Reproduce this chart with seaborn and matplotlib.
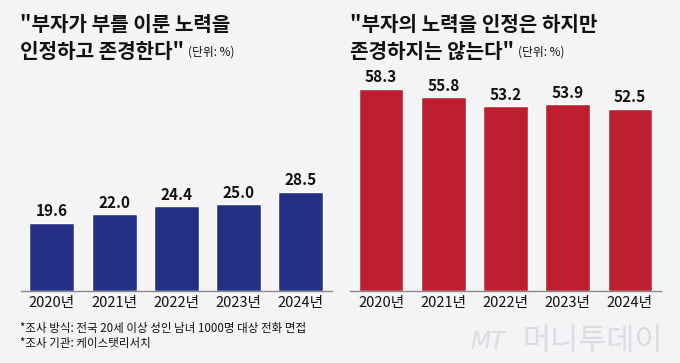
import matplotlib
matplotlib.use('Agg')
import matplotlib.pyplot as plt
import seaborn as sns
import pandas as pd
import numpy as np

sns.set_style('white')
plt.rcParams['font.family'] = ['Noto Sans CJK KR', 'DejaVu Sans']

# 데이터
years = ['2020년', '2021년', '2022년', '2023년', '2024년']
respect = [19.6, 22.0, 24.4, 25.0, 28.5]
no_respect = [58.3, 55.8, 53.2, 53.9, 52.5]

BG = '#f4f4f7'
BLUE = '#252f86'
RED = '#bd1f2e'

W, H = 680, 363
fig = plt.figure(figsize=(W / 100, H / 100), dpi=100, facecolor=BG)

base_px = 290.5
top_px = 80
ymax = (base_px - top_px) / 3.46

def px_axes(x0, x1):
    return fig.add_axes([x0 / W, (H - base_px) / H, (x1 - x0) / W, (base_px - top_px) / H])

ax1 = px_axes(20.7, 332)
ax2 = px_axes(350, 661)

for ax, vals, col in [(ax1, respect, BLUE), (ax2, no_respect, RED)]:
    df = pd.DataFrame({'year': years, 'val': vals})
    sns.barplot(data=df, x='year', y='val', color=col, width=0.72,
                saturation=1, ax=ax)
    ax.set_facecolor(BG)
    ax.set_xlim(-0.5, 4.5)
    ax.set_ylim(0, ymax)
    ax.bar_label(ax.containers[0], fmt='%.1f', padding=2.5,
                 fontsize=11, fontweight='bold', color='#111111')
    for s in ['top', 'left', 'right']:
        ax.spines[s].set_visible(False)
    ax.spines['bottom'].set_color('#8a8a8a')
    ax.spines['bottom'].set_linewidth(1)
    ax.set_yticks([])
    ax.set_xlabel('')
    ax.set_ylabel('')
    ax.tick_params(axis='x', which='major', length=0, pad=4, labelsize=10.5,
                   labelcolor='#111111')
    ax.set_xticks(np.arange(-0.5, 5, 1), minor=True)
    ax.tick_params(axis='x', which='minor', direction='in', length=5,
                   width=1, color='#8a8a8a')

# 제목
renderer = fig.canvas.get_renderer()
titles = [
    (20, ['"부자가 부를 이룬 노력을', '인정하고 존경한다"']),
    (350, ['"부자의 노력을 인정은 하지만', '존경하지는 않는다"']),
]
for x0, lines in titles:
    fig.text(x0 / W, 1 - 31 / H, lines[0], fontsize=14.5, fontweight='bold',
             color='#111111', va='baseline')
    t2 = fig.text(x0 / W, 1 - 57.5 / H, lines[1], fontsize=14.5, fontweight='bold',
                  color='#111111', va='baseline')
    bb = t2.get_window_extent(renderer)
    fig.text((bb.x1 + 4) / W, 1 - 56 / H, '(단위: %)', fontsize=8.5,
             color='#111111', va='baseline')

# 주석
fig.text(20 / W, 1 - 332 / H, '*조사 방식: 전국 20세 이상 성인 남녀 1000명 대상 전화 면접',
         fontsize=8.3, color='#111111', va='baseline')
fig.text(20 / W, 1 - 347 / H, '*조사 기관: 케이스탯리서치',
         fontsize=8.3, color='#111111', va='baseline')

# 워터마크
fig.text(470 / W, 1 - 349 / H, 'MT', fontsize=17, style='italic', color='#dcdce0',
         va='baseline', family='DejaVu Sans')
fig.text(663 / W, 1 - 350 / H, '머니투데이', fontsize=22, color='#dcdce0',
         va='baseline', ha='right', fontweight='light')

fig.savefig('out.png', dpi=100, facecolor=BG)
